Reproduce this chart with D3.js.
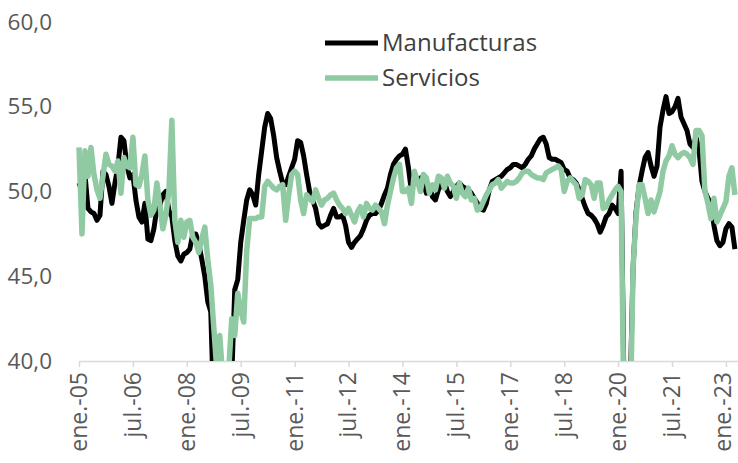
<!DOCTYPE html>
<html>
<head>
<meta charset="utf-8">
<script src="https://cdn.jsdelivr.net/npm/d3@7"></script>
<style>
  body { margin: 0; background: #fff; }
  svg { display: block; font-family: "Open Sans", sans-serif; }
</style>
</head>
<body>
<svg id="chart"></svg>
<script>
// monthly PMI, ene.-05 .. abr.-23
const manufacturas = [
  50.5, 50.0, 51.0, 49.0, 48.8, 48.7, 48.3, 48.6, 51.2, 51.0, 50.3, 49.3,
  50.5, 51.5, 53.2, 53.0, 51.5, 50.8, 51.0, 49.5, 48.5, 48.2, 49.3, 47.2,
  47.1, 47.8, 49.0, 49.2, 49.8, 50.0, 48.9, 48.5, 47.1, 46.2, 45.9, 46.3,
  46.4, 46.6, 47.5, 47.5, 46.9, 46.0, 45.0, 43.5, 42.9, 37.0, 35.0, 34.0,
  35.0, 36.0, 37.5, 39.0, 44.2, 44.8, 47.0, 48.3, 49.5, 50.1, 49.8, 49.2,
  51.0, 52.4, 53.8, 54.6, 54.3, 53.3, 52.0, 51.2, 50.5, 50.4, 50.9, 51.4,
  51.9, 53.0, 52.9, 52.1, 51.0, 50.0, 49.5, 49.0, 48.1, 47.9, 48.0, 48.1,
  48.6, 49.0, 48.5, 48.5, 48.6, 48.0, 47.0, 46.7, 47.0, 47.2, 47.4, 47.8,
  48.3, 48.6, 48.7, 48.7, 48.9, 49.3, 49.8, 50.2, 51.0, 51.6, 51.9, 52.1,
  52.2, 52.5, 51.4, 50.0, 51.0, 50.7, 50.8, 50.5, 49.9, 50.3, 49.7, 49.5,
  50.1, 50.4, 50.6, 50.0, 49.7, 50.0, 50.3, 50.5, 50.3, 50.2, 50.1, 49.9,
  49.6, 49.3, 49.0, 48.9, 49.3, 50.1, 50.6, 50.7, 50.8, 50.9, 51.1, 51.3,
  51.4, 51.6, 51.6, 51.5, 51.4, 51.6, 51.9, 52.1, 52.5, 52.8, 53.1, 53.2,
  52.8, 52.0, 51.9, 51.9, 51.8, 51.7, 51.3, 51.2, 50.8, 50.7, 50.5, 50.1,
  49.6, 49.1, 48.7, 48.6, 48.4, 48.1, 47.6, 48.0, 48.5, 48.7, 49.2, 49.0,
  48.7, 51.2, 38.0, 30.0, 38.0, 45.5, 48.8, 50.3, 51.2, 52.0, 52.3, 51.5,
  50.9, 51.5, 53.8, 54.8, 55.6, 54.6, 54.7, 55.0, 55.5, 54.4, 54.0, 53.6,
  52.8, 52.6, 53.2, 52.5, 50.6, 50.0, 49.6, 49.3, 48.0, 47.1, 46.8, 47.0,
  47.8, 48.1, 47.9, 46.6
];

const servicios = [
  52.6, 47.5, 52.4, 50.9, 52.6, 51.0, 50.1, 49.6, 50.9, 52.2, 51.6, 51.5,
  51.2, 51.8, 49.9, 52.0, 51.5, 51.4, 53.2, 50.4, 50.3, 51.0, 52.1, 49.5,
  48.6, 48.9, 50.5, 49.2, 47.8, 48.6, 50.0, 54.2, 48.3, 47.0, 48.3, 47.3,
  48.2, 48.3, 47.3, 47.0, 46.4, 47.2, 47.9, 46.0, 44.5, 42.0, 39.5, 41.5,
  39.0, 38.5, 39.5, 42.5, 41.5, 44.0, 43.0, 42.3, 46.5, 48.4, 48.4, 48.4,
  48.5, 48.5, 50.3, 50.6, 50.4, 50.2, 50.1, 50.3, 50.4, 48.3, 49.8, 51.0,
  51.2, 51.0, 49.5, 48.7, 49.8, 49.6, 49.4, 50.1, 49.6, 49.2, 49.5, 49.6,
  49.8, 49.9, 49.5, 49.2, 49.0, 48.7, 49.0, 48.6, 48.2, 48.8, 49.1, 48.5,
  49.3, 49.0, 48.9, 49.2, 49.0, 48.8, 48.1, 49.2, 50.0, 50.8, 51.4, 51.6,
  50.0, 50.0, 50.2, 49.3, 51.2, 50.6, 50.0, 51.0, 50.8, 49.9, 50.4, 50.1,
  50.9, 50.8, 50.2, 50.9, 50.5, 50.3, 49.6, 50.5, 49.9, 49.7, 50.2, 49.5,
  49.6, 48.9, 49.0, 49.4, 49.8, 50.1, 50.4, 50.5, 50.7, 50.2, 50.4, 50.6,
  50.5, 50.5, 50.6, 50.8, 51.1, 51.2, 51.2, 51.0, 50.9, 50.8, 50.8, 50.7,
  51.1, 51.2, 51.3, 51.4, 51.5, 51.3, 50.0, 50.6, 50.8, 50.6, 50.4, 49.6,
  49.8, 50.7, 50.6, 50.4, 49.6, 50.5, 50.5, 49.0, 49.1, 49.5, 49.8, 50.1,
  50.3, 50.0, 36.0, 25.0, 36.0, 45.5, 48.5, 50.4, 50.4, 49.6, 48.7, 49.5,
  48.8, 49.4, 50.0, 51.2, 51.8, 52.1, 52.7, 52.2, 52.0, 52.2, 52.3, 52.2,
  52.0, 51.6, 53.6, 53.6, 53.3, 50.0, 49.3, 48.4, 49.6, 48.2, 48.6, 49.0,
  49.4, 50.9, 51.4, 49.8
];

const tickLabels = ['ene.-05','jul.-06','ene.-08','jul.-09','ene.-11','jul.-12',
  'ene.-14','jul.-15','ene.-17','jul.-18','ene.-20','jul.-21','ene.-23'];
const yTicks = [40, 45, 50, 55, 60];

const series = [
  {name: 'Manufacturas', values: manufacturas, color: '#000000', width: 5},
  {name: 'Servicios', values: servicios, color: '#8FCAA2', width: 5.5}
];

const svgWidth = 738;
const svgHeight = 463;
const plotLeft = 79;
const plotTop = 22;
const plotBottom = 361;

const svg = d3.select('#chart')
  .attr('width', svgWidth)
  .attr('height', svgHeight);

const xScale = d3.scaleLinear()
  .domain([0, manufacturas.length - 1])
  .range([plotLeft, plotLeft + (manufacturas.length - 1) * 2.995]);

const yScale = d3.scaleLinear()
  .domain([40, 60])
  .range([plotBottom, plotTop]);

svg.append('defs').append('clipPath')
  .attr('id', 'plot-clip')
  .append('rect')
  .attr('x', 0)
  .attr('y', yScale(60) - 10)
  .attr('width', svgWidth)
  .attr('height', yScale(40) - yScale(60) + 10);

// y labels (no axis line)
const yAxis = d3.axisLeft(yScale)
  .tickValues(yTicks)
  .tickSize(0)
  .tickPadding(0)
  .tickFormat(d => d3.format('.1f')(d).replace('.', ','));

const gy = svg.append('g')
  .attr('transform', 'translate(52,0)')
  .call(yAxis);
gy.select('.domain').remove();
gy.selectAll('text')
  .attr('fill', '#595959')
  .style('font-size', '22.5px')
  .style('font-family', '"Open Sans", sans-serif');

// x axis
const xAxis = d3.axisBottom(xScale)
  .tickValues(d3.range(0, manufacturas.length, 18))
  .tickSize(6)
  .tickSizeOuter(0)
  .tickFormat((d, i) => tickLabels[i]);

const gx = svg.append('g')
  .attr('transform', 'translate(0,' + plotBottom + ')')
  .call(xAxis);
gx.select('.domain')
  .attr('d', 'M' + xScale.range()[0] + ',0.5H' + svgWidth)
  .attr('stroke', '#d9d9d9')
  .attr('stroke-width', 1.5);
gx.selectAll('.tick line')
  .attr('stroke', '#d9d9d9')
  .attr('stroke-width', 1.5);
gx.selectAll('text')
  .attr('fill', '#595959')
  .attr('transform', (d, i, nodes) =>
    (i === nodes.length - 1 ? 'translate(-3,0) ' : '') + 'rotate(-90)')
  .attr('x', -11)
  .attr('y', 0)
  .attr('dy', '0.32em')
  .style('text-anchor', 'end')
  .style('font-size', '23px')
  .style('font-family', '"Open Sans", sans-serif');

// lines
const line = d3.line()
  .x((d, i) => xScale(i))
  .y(d => yScale(d));

svg.append('g')
  .attr('clip-path', 'url(#plot-clip)')
  .selectAll('path')
  .data(series)
  .enter()
  .append('path')
  .attr('d', d => line(d.values))
  .attr('fill', 'none')
  .attr('stroke', d => d.color)
  .attr('stroke-width', d => d.width)
  .attr('stroke-linejoin', 'round')
  .attr('stroke-linecap', 'butt');

// legend
const legend = svg.append('g')
  .selectAll('g')
  .data(series)
  .enter()
  .append('g')
  .attr('transform', (d, i) => 'translate(325,' + (43 + i * 35) + ')');

legend.append('line')
  .attr('x1', 0)
  .attr('x2', 53)
  .attr('stroke', d => d.color)
  .attr('stroke-width', d => d.width);

legend.append('text')
  .attr('x', 57)
  .attr('dy', '0.35em')
  .attr('fill', '#404040')
  .style('font-size', '24px')
  .text(d => d.name);
</script>
</body>
</html>
